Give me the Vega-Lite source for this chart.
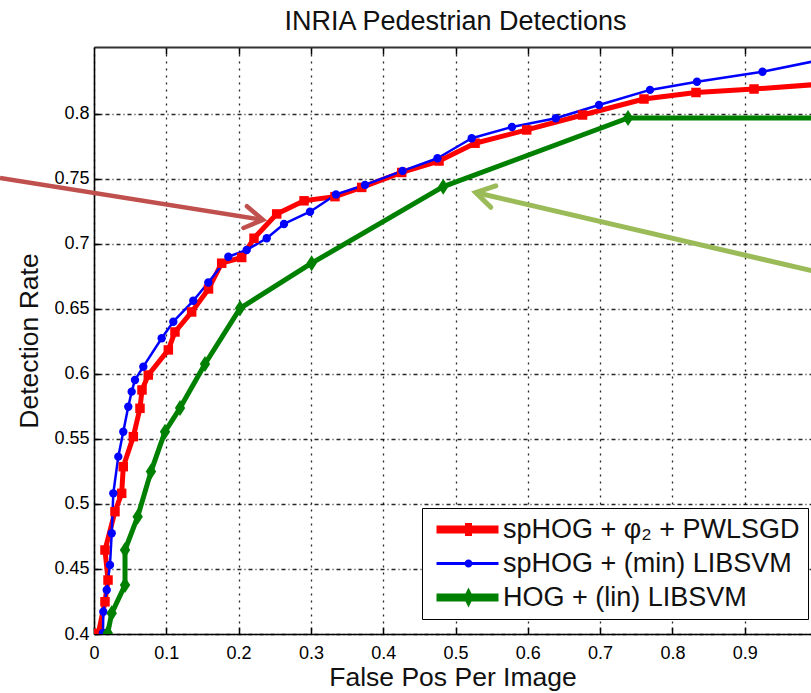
{
  "$schema": "https://vega.github.io/schema/vega-lite/v6.json",
  "width": 717,
  "height": 587,
  "autosize": {"type": "none"},
  "padding": {"left": 94, "top": 47, "right": 0, "bottom": 59},
  "background": "white",
  "title": {"text": "INRIA Pedestrian Detections", "font": "Liberation Sans", "fontSize": 27, "fontWeight": "normal", "color": "#111111", "anchor": "middle", "dx": 3, "offset": 10},
  "config": {"view": {"stroke": null},
    "legend": {"orient": "none", "legendX": 328, "legendY": 461, "strokeColor": "#000000", "fillColor": "#ffffff", "padding": 8,
      "labelFont": "Liberation Sans", "labelFontSize": 27, "labelColor": "#111111", "labelLimit": 400, "symbolSize": 400, "labelOffset": 46, "rowPadding": 6,
      "symbolStrokeWidth": 0, "symbolOpacity": 1,
      "symbolType": {"expr": "indexof(datum.value, 'PWLSGD') >= 0 ? 'M-0.7,-0.4H5.5V0.4H-0.7Z M2.15,-0.65H2.85V0.65H2.15Z' : (indexof(datum.value, 'min') >= 0 ? 'M-0.7,-0.15H5.5V0.15H-0.7Z M2.1,0A0.4,0.4 0 1,1 2.9,0A0.4,0.4 0 1,1 2.1,0Z' : 'M-0.7,-0.4H5.5V0.4H-0.7Z M2.5,-1L3,0L2.5,1L2,0Z')"}}},
  "datasets": {
    "curves": [
      {"series": "spHOG + φ₂ + PWLSGD", "i": 0, "fppi": 0.006, "rate": 0.4005},
      {"series": "spHOG + φ₂ + PWLSGD", "i": 1, "fppi": 0.0152, "rate": 0.4248},
      {"series": "spHOG + φ₂ + PWLSGD", "i": 2, "fppi": 0.0194, "rate": 0.4415},
      {"series": "spHOG + φ₂ + PWLSGD", "i": 3, "fppi": 0.0152, "rate": 0.4646},
      {"series": "spHOG + φ₂ + PWLSGD", "i": 4, "fppi": 0.029, "rate": 0.4941},
      {"series": "spHOG + φ₂ + PWLSGD", "i": 5, "fppi": 0.0383, "rate": 0.5082},
      {"series": "spHOG + φ₂ + PWLSGD", "i": 6, "fppi": 0.0405, "rate": 0.5287},
      {"series": "spHOG + φ₂ + PWLSGD", "i": 7, "fppi": 0.0544, "rate": 0.5518},
      {"series": "spHOG + φ₂ + PWLSGD", "i": 8, "fppi": 0.0636, "rate": 0.5736},
      {"series": "spHOG + φ₂ + PWLSGD", "i": 9, "fppi": 0.0664, "rate": 0.5877},
      {"series": "spHOG + φ₂ + PWLSGD", "i": 10, "fppi": 0.0751, "rate": 0.5992},
      {"series": "spHOG + φ₂ + PWLSGD", "i": 11, "fppi": 0.1028, "rate": 0.6185},
      {"series": "spHOG + φ₂ + PWLSGD", "i": 12, "fppi": 0.112, "rate": 0.6323},
      {"series": "spHOG + φ₂ + PWLSGD", "i": 13, "fppi": 0.1351, "rate": 0.6477},
      {"series": "spHOG + φ₂ + PWLSGD", "i": 14, "fppi": 0.1584, "rate": 0.6654},
      {"series": "spHOG + φ₂ + PWLSGD", "i": 15, "fppi": 0.1766, "rate": 0.6852},
      {"series": "spHOG + φ₂ + PWLSGD", "i": 16, "fppi": 0.2043, "rate": 0.6896},
      {"series": "spHOG + φ₂ + PWLSGD", "i": 17, "fppi": 0.2213, "rate": 0.7044},
      {"series": "spHOG + φ₂ + PWLSGD", "i": 18, "fppi": 0.2527, "rate": 0.7231},
      {"series": "spHOG + φ₂ + PWLSGD", "i": 19, "fppi": 0.2905, "rate": 0.7332},
      {"series": "spHOG + φ₂ + PWLSGD", "i": 20, "fppi": 0.3333, "rate": 0.7364},
      {"series": "spHOG + φ₂ + PWLSGD", "i": 21, "fppi": 0.3703, "rate": 0.7435},
      {"series": "spHOG + φ₂ + PWLSGD", "i": 22, "fppi": 0.4256, "rate": 0.755},
      {"series": "spHOG + φ₂ + PWLSGD", "i": 23, "fppi": 0.4772, "rate": 0.7638},
      {"series": "spHOG + φ₂ + PWLSGD", "i": 24, "fppi": 0.527, "rate": 0.7775},
      {"series": "spHOG + φ₂ + PWLSGD", "i": 25, "fppi": 0.5985, "rate": 0.7877},
      {"series": "spHOG + φ₂ + PWLSGD", "i": 26, "fppi": 0.6757, "rate": 0.7992},
      {"series": "spHOG + φ₂ + PWLSGD", "i": 27, "fppi": 0.7607, "rate": 0.8115},
      {"series": "spHOG + φ₂ + PWLSGD", "i": 28, "fppi": 0.8326, "rate": 0.8165},
      {"series": "spHOG + φ₂ + PWLSGD", "i": 29, "fppi": 0.9129, "rate": 0.8192},
      {"series": "spHOG + φ₂ + PWLSGD", "i": 30, "fppi": 1.0, "rate": 0.8227},
      {"series": "spHOG + (min) LIBSVM", "i": 0, "fppi": 0.0124, "rate": 0.4008},
      {"series": "spHOG + (min) LIBSVM", "i": 1, "fppi": 0.0129, "rate": 0.4171},
      {"series": "spHOG + (min) LIBSVM", "i": 2, "fppi": 0.0176, "rate": 0.4338},
      {"series": "spHOG + (min) LIBSVM", "i": 3, "fppi": 0.0221, "rate": 0.4531},
      {"series": "spHOG + (min) LIBSVM", "i": 4, "fppi": 0.0245, "rate": 0.4775},
      {"series": "spHOG + (min) LIBSVM", "i": 5, "fppi": 0.0267, "rate": 0.5082},
      {"series": "spHOG + (min) LIBSVM", "i": 6, "fppi": 0.0336, "rate": 0.5364},
      {"series": "spHOG + (min) LIBSVM", "i": 7, "fppi": 0.0405, "rate": 0.5556},
      {"series": "spHOG + (min) LIBSVM", "i": 8, "fppi": 0.0474, "rate": 0.5748},
      {"series": "spHOG + (min) LIBSVM", "i": 9, "fppi": 0.0521, "rate": 0.5864},
      {"series": "spHOG + (min) LIBSVM", "i": 10, "fppi": 0.0567, "rate": 0.5954},
      {"series": "spHOG + (min) LIBSVM", "i": 11, "fppi": 0.0682, "rate": 0.6056},
      {"series": "spHOG + (min) LIBSVM", "i": 12, "fppi": 0.0936, "rate": 0.6275},
      {"series": "spHOG + (min) LIBSVM", "i": 13, "fppi": 0.1097, "rate": 0.6402},
      {"series": "spHOG + (min) LIBSVM", "i": 14, "fppi": 0.1373, "rate": 0.6563},
      {"series": "spHOG + (min) LIBSVM", "i": 15, "fppi": 0.1581, "rate": 0.6704},
      {"series": "spHOG + (min) LIBSVM", "i": 16, "fppi": 0.1858, "rate": 0.6902},
      {"series": "spHOG + (min) LIBSVM", "i": 17, "fppi": 0.2112, "rate": 0.6954},
      {"series": "spHOG + (min) LIBSVM", "i": 18, "fppi": 0.2389, "rate": 0.7044},
      {"series": "spHOG + (min) LIBSVM", "i": 19, "fppi": 0.2628, "rate": 0.7154},
      {"series": "spHOG + (min) LIBSVM", "i": 20, "fppi": 0.2988, "rate": 0.7248},
      {"series": "spHOG + (min) LIBSVM", "i": 21, "fppi": 0.3347, "rate": 0.7381},
      {"series": "spHOG + (min) LIBSVM", "i": 22, "fppi": 0.3748, "rate": 0.7454},
      {"series": "spHOG + (min) LIBSVM", "i": 23, "fppi": 0.4267, "rate": 0.7562},
      {"series": "spHOG + (min) LIBSVM", "i": 24, "fppi": 0.4751, "rate": 0.7659},
      {"series": "spHOG + (min) LIBSVM", "i": 25, "fppi": 0.5224, "rate": 0.7813},
      {"series": "spHOG + (min) LIBSVM", "i": 26, "fppi": 0.5781, "rate": 0.79},
      {"series": "spHOG + (min) LIBSVM", "i": 27, "fppi": 0.6387, "rate": 0.7967},
      {"series": "spHOG + (min) LIBSVM", "i": 28, "fppi": 0.6985, "rate": 0.8069},
      {"series": "spHOG + (min) LIBSVM", "i": 29, "fppi": 0.769, "rate": 0.8185},
      {"series": "spHOG + (min) LIBSVM", "i": 30, "fppi": 0.834, "rate": 0.8248},
      {"series": "spHOG + (min) LIBSVM", "i": 31, "fppi": 0.9246, "rate": 0.8325},
      {"series": "spHOG + (min) LIBSVM", "i": 32, "fppi": 1.0, "rate": 0.841},
      {"series": "HOG + (lin) LIBSVM", "i": 0, "fppi": 0.019, "rate": 0.4008},
      {"series": "HOG + (lin) LIBSVM", "i": 1, "fppi": 0.0245, "rate": 0.4159},
      {"series": "HOG + (lin) LIBSVM", "i": 2, "fppi": 0.0429, "rate": 0.4377},
      {"series": "HOG + (lin) LIBSVM", "i": 3, "fppi": 0.0429, "rate": 0.4646},
      {"series": "HOG + (lin) LIBSVM", "i": 4, "fppi": 0.0604, "rate": 0.4902},
      {"series": "HOG + (lin) LIBSVM", "i": 5, "fppi": 0.0788, "rate": 0.5249},
      {"series": "HOG + (lin) LIBSVM", "i": 6, "fppi": 0.0982, "rate": 0.5556},
      {"series": "HOG + (lin) LIBSVM", "i": 7, "fppi": 0.119, "rate": 0.5738},
      {"series": "HOG + (lin) LIBSVM", "i": 8, "fppi": 0.1535, "rate": 0.6077},
      {"series": "HOG + (lin) LIBSVM", "i": 9, "fppi": 0.202, "rate": 0.6505},
      {"series": "HOG + (lin) LIBSVM", "i": 10, "fppi": 0.301, "rate": 0.6852},
      {"series": "HOG + (lin) LIBSVM", "i": 11, "fppi": 0.483, "rate": 0.7441},
      {"series": "HOG + (lin) LIBSVM", "i": 12, "fppi": 0.7386, "rate": 0.7969},
      {"series": "HOG + (lin) LIBSVM", "i": 13, "fppi": 1.0, "rate": 0.7969}
    ]
  },
  "layer": [
    {
      "data": {"name": "curves"},
      "transform": [{"filter": "indexof(datum.series, 'PWLSGD') >= 0"}],
      "mark": {"type": "line", "clip": true, "strokeJoin": "round", "strokeWidth": 5},
      "encoding": {
        "x": {"field": "fppi", "type": "quantitative",
          "scale": {"domain": [0, 0.9917], "nice": false, "zero": false},
          "axis": {"orient": "bottom", "values": [0, 0.1, 0.2, 0.3, 0.4, 0.5, 0.6, 0.7, 0.8, 0.9], "format": ".1~f", "labelFlush": false,
            "grid": true, "gridColor": "#000000", "gridDash": [2, 5], "gridWidth": 1.3, "gridOpacity": 0.85,
            "domainColor": "#000000", "domainWidth": 1.6, "tickColor": "#000000", "tickSize": -7, "tickWidth": 1.5,
            "labelFont": "Liberation Sans", "labelFontSize": 18, "labelColor": "#000000", "labelPadding": 17,
            "title": "False Pos Per Image", "titleFont": "Liberation Sans", "titleFontSize": 26.5, "titleFontWeight": "normal", "titleColor": "#111111", "titlePadding": 2}},
        "y": {"field": "rate", "type": "quantitative",
          "scale": {"domain": [0.4, 0.8515], "nice": false, "zero": false},
          "axis": {"orient": "left", "values": [0.4, 0.45, 0.5, 0.55, 0.6, 0.65, 0.7, 0.75, 0.8], "format": ".2~f",
            "grid": true, "gridColor": "#000000", "gridDash": [4, 3, 1, 3], "gridWidth": 1.3, "gridOpacity": 0.85,
            "domainColor": "#000000", "domainWidth": 1.6, "tickColor": "#000000", "tickSize": -7, "tickWidth": 1.5,
            "labelFont": "Liberation Sans", "labelFontSize": 18, "labelColor": "#000000", "labelPadding": 12,
            "title": "Detection Rate", "titleFont": "Liberation Sans", "titleFontSize": 26.5, "titleFontWeight": "normal", "titleColor": "#111111", "titlePadding": 10}},
        "color": {"field": "series", "type": "nominal",
          "scale": {"domain": ["spHOG + φ₂ + PWLSGD", "spHOG + (min) LIBSVM", "HOG + (lin) LIBSVM"], "range": ["#ff0000", "#0000ff", "#008000"]},
          "legend": {"title": null}},
        "order": {"field": "i", "type": "quantitative"}
      }
    },
    {
      "data": {"name": "curves"},
      "transform": [{"filter": "indexof(datum.series, 'min') >= 0"}],
      "mark": {"type": "line", "clip": true, "strokeJoin": "round", "strokeWidth": 2.5},
      "encoding": {
        "x": {"field": "fppi", "type": "quantitative", "axis": null},
        "y": {"field": "rate", "type": "quantitative"},
        "color": {"field": "series", "type": "nominal", "legend": {"title": null}},
        "order": {"field": "i", "type": "quantitative"}
      }
    },
    {
      "data": {"name": "curves"},
      "transform": [{"filter": "indexof(datum.series, 'lin') >= 0"}],
      "mark": {"type": "line", "clip": true, "strokeJoin": "round", "strokeWidth": 5},
      "encoding": {
        "x": {"field": "fppi", "type": "quantitative", "axis": null},
        "y": {"field": "rate", "type": "quantitative"},
        "color": {"field": "series", "type": "nominal", "legend": {"title": null}},
        "order": {"field": "i", "type": "quantitative"}
      }
    },
    {
      "data": {"name": "curves"},
      "transform": [{"filter": "indexof(datum.series, 'PWLSGD') >= 0"}],
      "mark": {"type": "point", "filled": true, "opacity": 1, "clip": true, "shape": "square", "size": 90},
      "encoding": {
        "x": {"field": "fppi", "type": "quantitative",
          "axis": {"orient": "top", "values": [0.1, 0.2, 0.3, 0.4, 0.5, 0.6, 0.7, 0.8, 0.9], "labels": false, "grid": false, "title": null,
            "domainColor": "#333333", "domainWidth": 2, "tickColor": "#000000", "tickSize": -7, "tickWidth": 1.5}},
        "y": {"field": "rate", "type": "quantitative"},
        "color": {"field": "series", "type": "nominal", "legend": {"title": null}}
      }
    },
    {
      "data": {"name": "curves"},
      "transform": [{"filter": "indexof(datum.series, 'min') >= 0"}],
      "mark": {"type": "point", "filled": true, "opacity": 1, "clip": true, "shape": "circle", "size": 70},
      "encoding": {
        "x": {"field": "fppi", "type": "quantitative", "axis": null},
        "y": {"field": "rate", "type": "quantitative"},
        "color": {"field": "series", "type": "nominal", "legend": {"title": null}}
      }
    },
    {
      "data": {"name": "curves"},
      "transform": [{"filter": "indexof(datum.series, 'lin') >= 0"}],
      "mark": {"type": "point", "filled": true, "opacity": 1, "clip": true, "shape": "M0,-1L0.65,0L0,1L-0.65,0Z", "size": 256},
      "encoding": {
        "x": {"field": "fppi", "type": "quantitative", "axis": null},
        "y": {"field": "rate", "type": "quantitative"},
        "color": {"field": "series", "type": "nominal", "legend": {"title": null}}
      }
    },
    {
      "data": {"values": [{"x": -0.13, "y": 0.7508, "x2": 0.2337, "y2": 0.7185}]},
      "mark": {"type": "rule", "color": "#c0504d", "strokeWidth": 4.5, "strokeCap": "butt"},
      "encoding": {
        "x": {"field": "x", "type": "quantitative", "axis": null},
        "y": {"field": "y", "type": "quantitative"},
        "x2": {"field": "x2"},
        "y2": {"field": "y2"}
      }
    },
    {
      "data": {"values": [{"x": 0.2337, "y": 0.7185}]},
      "mark": {"type": "point", "filled": false, "color": "#c0504d", "strokeWidth": 4.5, "strokeCap": "round", "strokeJoin": "miter", "opacity": 1},
      "encoding": {
        "x": {"field": "x", "type": "quantitative", "axis": null},
        "y": {"field": "y", "type": "quantitative"},
        "shape": {"value": "M-0.9,-0.55L0,0L-0.9,0.55"},
        "size": {"value": 1600},
        "angle": {"value": 9}
      }
    },
    {
      "data": {"values": [{"x": 1.0456, "y": 0.6726, "x2": 0.528, "y2": 0.7396}]},
      "mark": {"type": "rule", "color": "#9bbb59", "strokeWidth": 5, "strokeCap": "butt"},
      "encoding": {
        "x": {"field": "x", "type": "quantitative", "axis": null},
        "y": {"field": "y", "type": "quantitative"},
        "x2": {"field": "x2"},
        "y2": {"field": "y2"}
      }
    },
    {
      "data": {"values": [{"x": 0.528, "y": 0.7396}]},
      "mark": {"type": "point", "filled": false, "color": "#9bbb59", "strokeWidth": 5, "strokeCap": "round", "strokeJoin": "miter", "opacity": 1},
      "encoding": {
        "x": {"field": "x", "type": "quantitative", "axis": null},
        "y": {"field": "y", "type": "quantitative"},
        "shape": {"value": "M-0.9,-0.55L0,0L-0.9,0.55"},
        "size": {"value": 1600},
        "angle": {"value": 193}
      }
    }
  ],
  "resolve": {"axis": {"x": "independent"}}
}
